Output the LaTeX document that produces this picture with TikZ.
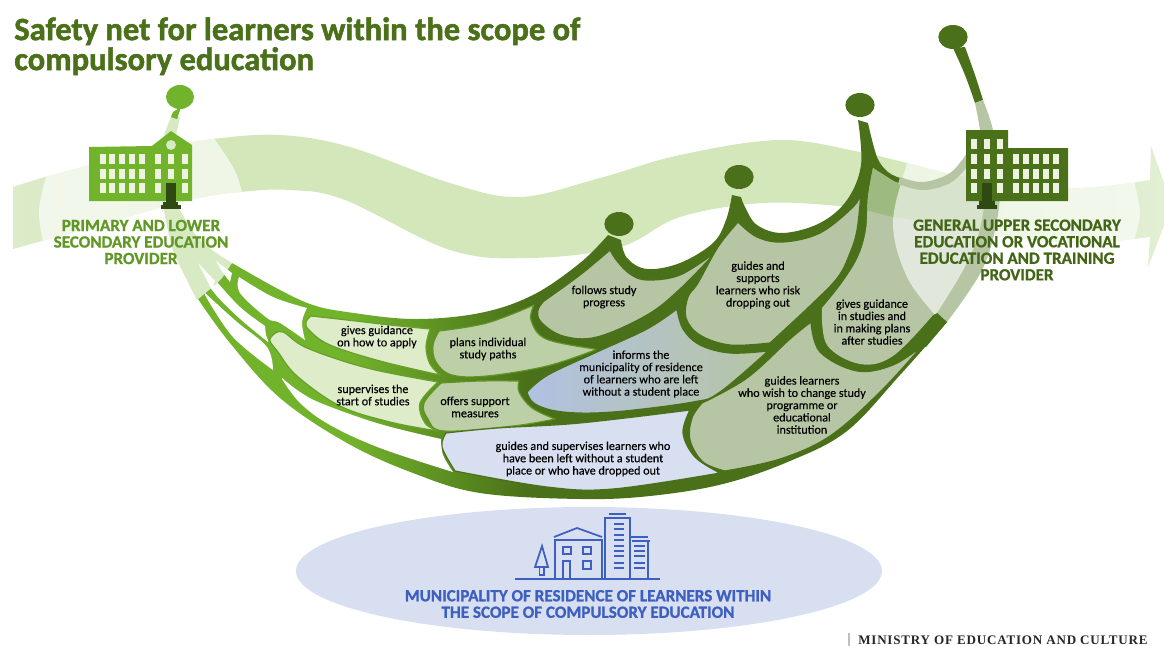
\documentclass[tikz,border=0pt]{standalone}
\usepackage{fontspec}
\setmainfont{Carlito}
\newfontfamily\bodyfont[FakeBold=0.25]{Carlito}
\newfontfamily\titlefont[FakeBold=1.6]{Carlito Bold}
\newfontfamily\headfont[FakeBold=1.0]{Carlito Bold}
\newfontfamily\minfont[LetterSpace=6]{Liberation Serif Bold}
\usetikzlibrary{shapes.geometric}
\definecolor{lgreen}{HTML}{72B32C}
\definecolor{mgreen}{HTML}{5F9522}
\definecolor{dgreen}{HTML}{4A7019}
\definecolor{vdark}{HTML}{2E4A12}
\definecolor{paleg}{HTML}{DFECC9}
\definecolor{sage}{HTML}{B6C5A3}
\definecolor{sageb}{HTML}{BDCFA6}
\definecolor{stemlt}{HTML}{D8EAC4}
\definecolor{blueA}{HTML}{D7DFF1}
\definecolor{blueB}{HTML}{B1C1E2}
\definecolor{blueI}{HTML}{3C5FC0}
\definecolor{winlt}{HTML}{EDF3E0}
\definecolor{ribA}{HTML}{DCEBC9}
\definecolor{ribB}{HTML}{D3E7BA}
\definecolor{ribC}{HTML}{E2EFD3}
\definecolor{ribIn}{HTML}{9DBB80}
\pgfdeclarehorizontalshading{massshade}{100bp}{color(0bp)=(lgreen);color(35bp)=(lgreen);color(47bp)=(dgreen);color(100bp)=(dgreen)}
\pgfdeclarehorizontalshading{ribbonshade}{100bp}{color(0bp)=(ribA);color(25bp)=(ribA);color(33bp)=(ribB);color(62bp)=(ribB);color(75bp)=(ribC);color(100bp)=(ribC)}
\tikzset{
 sm/.style={smooth,tension=.6},
 bodytxt/.style={align=center,font=\bodyfont\fontsize{9.1}{9.2}\selectfont,text=black,inner sep=0pt},
 headtxt/.style={align=center,font=\headfont\fontsize{12.8}{12.4}\selectfont,inner sep=0pt},
 knobdark/.style={fill=dgreen},
 rimL/.style={draw=lgreen!90!black,line width=.9pt,line join=round},
 rimM/.style={draw=mgreen,line width=.9pt,line join=round},
 rimD/.style={draw=dgreen,line width=.9pt,line join=round},
 ico/.style={draw=blueI,line width=1.3pt,fill=none}
}
\def\ribbonpath{plot[sm] coordinates {(13,187)(45,177)(90,165)(150,150)(213,139)(280,135)(350,147)(450,183)(520,197)(600,178)(680,155)(780,140)(860,152)(907,163)(967,177)(1070,188)(1150,180)} -- (1151,146) -- (1172,205) -- (1148,267) -- plot[sm] coordinates {(1150,237)(1080,243)(1000,236)(913,220)(893,217)(847,207)(763,203)(680,217)(620,247)(530,258)(450,250)(345,200)(290,190)(240,192)(190,200)(100,225)(13,249)} -- cycle}
\def\massoutline{plot[sm] coordinates {(232,263)(280,290)(313,305)(347,312)(413,319)(480,313)(533,295)(580,263)(608,235)} -- (621,240) -- plot[sm] coordinates {(621,240)(627,258)(647,269)(680,263)(713,243)(726,220)(732,195)} -- (741,197) -- plot[sm] coordinates {(741,197)(745,207)(757,225)(783,233)(820,223)(847,200)(861,165)(858,120)} -- (868,123) -- plot[sm] coordinates {(868,123)(877,157)(888,172)(900,178)} -- (937,313) -- (947,322) -- plot[sm] coordinates {(947,322)(900,375)(847,431)(790,461)(723,484)(650,496)(580,499)(480,493)(413,473)(347,443)(280,398)(230,343)(198,299)} -- cycle}
\def\cellapply{plot[sm] coordinates {(311,316)(347,320)(390,325)(430,329)} -- plot[sm] coordinates {(430,329)(426,347)(430,364)(440,375)} -- plot[sm] coordinates {(440,375)(380,361)(330,345)(309,330)(306,322)(311,316)} -- cycle}
\def\cellplans{plot[sm] coordinates {(439,331)(487,323)(534,305)} -- plot[sm] coordinates {(534,305)(531,320)(546,339)(595,349)} -- plot[sm] coordinates {(595,350)(547,366)(487,376)(452,375)(436,362)(433,345)(439,331)} -- cycle}
\def\cellfollow{plot[sm] coordinates {(544,301)(580,275)(610,250)} -- plot[sm] coordinates {(610,250)(617,261)(630,274)(647,280)(680,275)(716,252)} -- plot[sm] coordinates {(716,252)(680,289)(647,315)(597,337)(563,336)(541,322)(538,310)(544,301)} -- cycle}
\def\cellinform{plot[sm] coordinates {(527,392)(548,375)(597,352)(647,329)(677,309)} -- plot[sm] coordinates {(677,309)(683,329)(700,345)(730,353)(768,351)} -- plot[sm] coordinates {(768,351)(720,392)(693,402)(613,412)(563,412)(535,404)(527,392)} -- cycle}
\def\cellsupports{plot[sm] coordinates {(738,222)(757,237)(783,242)(820,233)(853,207)(861,193)} -- plot[sm] coordinates {(861,193)(857,230)(850,253)(838,277)(813,303)(770,343)} -- plot[sm] coordinates {(770,343)(730,345)(700,335)(686,318)(688,297)(698,283)(718,247)(738,222)} -- cycle}
\def\cellstudies{plot[sm] coordinates {(873,168)(868,197)(866,230)(858,257)(842,283)(822,308)} -- plot[sm] coordinates {(822,308)(827,345)(860,364)(893,356)(933,315)} -- (937,313) -- plot[sm] coordinates {(937,313)(967,263)(982,220)(985,170)} -- plot[sm] coordinates {(985,170)(967,167)(950,183)(923,190)(898,183)(887,177)(873,168)} -- cycle}
\def\celllearners{plot[sm] coordinates {(922,346)(893,365)(857,371)(820,352)(811,322)} -- plot[sm] coordinates {(811,322)(790,339)(747,378)(702,403)} -- plot[sm] coordinates {(702,403)(692,418)(690,440)(703,462)(725,471)} -- plot[sm] coordinates {(725,471)(780,459)(830,436)(880,392)(922,346)} -- cycle}
\def\cellblue{plot[sm] coordinates {(446,433)(497,428)(580,423)(690,410)} -- plot[sm] coordinates {(690,410)(683,433)(695,457)(720,473)} -- plot[sm] coordinates {(720,473)(613,489)(547,487)(455,471)} -- plot[sm] coordinates {(455,471)(442,447)(446,433)} -- cycle}
\def\celloffers{plot[sm] coordinates {(441,383)(480,381)(519,381)} -- plot[sm] coordinates {(519,381)(519,392)(532,408)(555,419)} -- plot[sm] coordinates {(555,419)(513,426)(444,431)(428,419)(424,403)(441,383)} -- cycle}
\def\cellsuper{plot[sm] coordinates {(273,335)(283,332)(307,348)(367,368)(438,382)} -- plot[sm] coordinates {(438,382)(420,403)(425,423)(438,431)} -- plot[sm] coordinates {(438,431)(390,422)(340,406)(297,376)(278,352)(270,341)(273,335)} -- cycle}
\def\rightpatch{plot[sm] coordinates {(912,145)(907,163)(893,223)(907,277)(937,317)} -- (1010,317) -- (1140,260) -- plot[sm] coordinates {(1135,237)(1140,213)(1135,185)} -- (1135,120) -- cycle}
\begin{document}
\begin{tikzpicture}[x=0.75pt,y=-0.75pt]
\useasboundingbox (0,0) rectangle (1164,646);
\clip (0,0) rectangle (1164,646);
% ribbon
\path[shading=ribbonshade] \ribbonpath;
\begin{scope}
 \clip \ribbonpath;
 \fill[white,opacity=.65] plot[sm] coordinates {(50,165)(39,210)(46,255)} -- (250,210) -- plot[sm] coordinates {(242,192)(233,167)(208,130)} -- cycle;
 \fill[white,opacity=.6] \rightpatch;
\end{scope}
% ellipse
\node[ellipse,fill=blueA,minimum width=439.5pt,minimum height=96pt,inner sep=0pt] (muni) at (589,571) {};
% mass
\path[shading=massshade] \massoutline;
\fill[dgreen] plot[sm] coordinates {(953,48)(965,75)(975,103)} -- (983,100) -- plot[sm] coordinates {(983,100)(975,75)(965,47)} -- cycle;
\node[ellipse,fill=lgreen,minimum width=21pt,minimum height=18pt,inner sep=0pt] (knobL) at (180,97) {};
\node[ellipse,knobdark,minimum width=22pt,minimum height=18pt,inner sep=0pt] (knobA) at (619,224) {};
\node[ellipse,knobdark,minimum width=22pt,minimum height=18pt,inner sep=0pt] (knobB) at (739,177) {};
\node[ellipse,knobdark,minimum width=22pt,minimum height=18pt,inner sep=0pt] (knobC) at (860,105) {};
\node[ellipse,knobdark,minimum width=22pt,minimum height=18pt,inner sep=0pt] (knobD) at (953,37) {};
% cells
\filldraw[fill=paleg,rimL] \cellapply;
\filldraw[fill=paleg,rimL] \cellsuper;
\filldraw[fill=sageb,rimM] \cellplans;
\filldraw[fill=sageb,rimM] \celloffers;
\filldraw[fill=sage,rimD] \cellfollow;
\filldraw[fill=sage,rimD] \cellsupports;
\filldraw[fill=sage,rimD] \celllearners;
\filldraw[fill=blueA,rimD] \cellblue;
\path[left color=blueB,right color=sage,rimD] \cellinform;
\fill[sage] \cellstudies;
\begin{scope}
 \clip \cellstudies;
 \fill[ribIn] \ribbonpath;
 \fill[white,opacity=.6] \rightpatch;
\end{scope}
% light band and stem on right
\fill[sage] plot[sm] coordinates {(900,177)(923,182)(950,173)(967,153)} -- (975,165) -- plot[sm] coordinates {(967,167)(950,183)(923,190)(898,184)} -- cycle;
\fill[sage] plot[sm] coordinates {(975,103)(980,130)(985,170)(982,220)(967,263)(937,313)} -- (947,322) -- plot[sm] coordinates {(947,322)(982,270)(997,220)(1000,175)(993,130)(983,100)} -- cycle;
\fill[dgreen] (937,313) -- (947,322) -- (926,347) -- (920,346) -- cycle;
% white gaps
\fill[white] plot[sm] coordinates {(239,277)(273,297)(307,308)} -- plot[sm] coordinates {(307,308)(302,322)(305,340)} -- plot[sm] coordinates {(305,340)(280,323)(267,318)(240,293)(239,277)} -- cycle;
\fill[white] plot[sm] coordinates {(198,263)(215,280)(240,307)(265,326)} -- plot[sm] coordinates {(265,326)(266,335)(268,340)} -- plot[sm] coordinates {(268,342)(238,317)(212,290)(198,263)} -- cycle;
\fill[white] plot[sm] coordinates {(205,293)(237,322)(267,347)(273,370)} -- plot[sm] coordinates {(273,370)(233,337)(205,295)} -- cycle;
\fill[white] plot[sm] coordinates {(282,378)(300,392)(323,404)(380,424)(441,439)} -- plot[sm] coordinates {(441,439)(443,455)(453,472)} -- plot[sm] coordinates {(453,472)(380,448)(330,425)(300,403)(282,379)} -- cycle;
% left stems
\fill[stemlt] plot[sm] coordinates {(163,205)(170,240)(177,260)(197,300)} -- (215,285) -- (222,278) -- (232,263) -- plot[sm] coordinates {(232,263)(200,240)(177,205)} -- cycle;
\fill[white] (198,263) -- (215,281) -- (212,290) -- cycle;
\fill[white] (216,261) -- (232,273) -- (230,282) -- (223,273) -- cycle;
\fill[stemlt] (164,135) -- (172,114) -- (180,117) -- (176,135) -- cycle;
\fill[lgreen] (173,112) -- (171,117) -- (177,119) -- (181,107) -- cycle;
% left school
\fill[lgreen] (89,147) -- (152,146) -- (171,131) -- (192,145) -- (192,201) -- (89,201) -- cycle;
\foreach \xx in {100,109,119,129,139,155,168,182}{
 \foreach \yy in {154,169,183}{ \fill[winlt] (\xx,\yy) rectangle +(6,9.5); }}
\fill[stemlt] (171,145) circle[radius=3.7pt];
\fill[vdark] (166,183) rectangle (176,202);
\fill[vdark] (163,202) rectangle (178,205);
\fill[vdark] (161,205) rectangle (181,208.5);
% right school
\fill[dgreen] (966,130) -- (1008,130) -- (1008,148) -- (1068,148) -- (1068,201) -- (966,201) -- cycle;
\foreach \xx in {971,984,997}{
 \foreach \yy in {139,154,169,183}{ \fill[winlt] (\xx,\yy) rectangle +(6,9.5); }}
\foreach \xx in {1013,1023,1033,1043,1053}{
 \foreach \yy in {154,169,183}{ \fill[winlt] (\xx,\yy) rectangle +(6,9.5); }}
\fill[vdark] (982,183) rectangle (992,201);
\fill[vdark] (979,201) rectangle (995,205);
\fill[vdark] (977,205) rectangle (997,209);
% municipal icon
\draw[ico] (515,579) -- (660,579);
\draw[ico] (542,546) -- (535,567) -- (548,567) -- cycle;
\draw[ico] (539.5,567) -- (539.5,575) -- (544,575) -- (544,567);
\draw[ico] (555,579) -- (555,540) -- (602,540) -- (602,579);
\draw[ico] (554,537) -- (577,528) -- (602,537);
\draw[ico] (563,547) rectangle (571,554);
\draw[ico] (583,547) rectangle (591,554);
\draw[ico] (583,561) rectangle (591,569);
\draw[ico] (563,579) -- (563,561) -- (570,561) -- (570,579);
\draw[ico,line width=1.7pt] (605,579) -- (605,518) -- (630,518) -- (630,579);
\draw[ico,line width=1.7pt] (609,514) -- (626,514);
\foreach \yy in {524,529,535,540,546,551,556,563,568}{ \draw[ico,line width=1.2pt] (614,\yy) -- (624,\yy); }
\draw[ico] (630,537) -- (648,537);
\draw[ico] (632,541) -- (650,541);
\draw[ico] (648,541) -- (648,579);
\foreach \yy in {546,551,556,563,568}{ \draw[ico,line width=1.2pt] (634,\yy) -- (645,\yy); }
% body texts
\node[bodytxt] (tApply) at (377,337) {gives guidance\\on how to apply};
\node[bodytxt] (tSuper) at (373,395) {supervises the\\start of studies};
\node[bodytxt] (tPlans) at (488,349) {plans individual\\study paths};
\node[bodytxt] (tOffers) at (475,407) {offers support\\measures};
\node[bodytxt] (tFollow) at (604,297) {follows study\\progress};
\node[bodytxt] (tInform) at (641,374) {informs the\\municipality of residence\\of learners who are left\\without a student place};
\node[bodytxt] (tBlue) at (583,459) {guides and supervises learners who\\have been left without a student\\place or who have dropped out};
\node[bodytxt] (tSupports) at (758,285) {guides and\\supports\\learners who risk\\dropping out};
\node[bodytxt] (tStudies) at (872,322) {gives guidance\\in studies and\\in making plans\\after studies};
\node[bodytxt] (tLearn) at (802,405) {guides learners\\who wish to change study\\programme or\\educational\\institution};
% headings
\node[headtxt,text=lgreen!85!black] (hPrim) at (141,242) {PRIMARY AND LOWER\\SECONDARY EDUCATION\\PROVIDER};
\node[headtxt,text=dgreen!90!black] (hUpper) at (1017,250) {GENERAL UPPER SECONDARY\\EDUCATION OR VOCATIONAL\\EDUCATION AND TRAINING\\PROVIDER};
\node[headtxt,text=blueI] (hMuni) at (588,604) {MUNICIPALITY OF RESIDENCE OF LEARNERS WITHIN\\THE SCOPE OF COMPULSORY EDUCATION};
\node[anchor=north west,align=left,inner sep=0pt,text=dgreen,font=\titlefont\fontsize{24.4}{22.5}\selectfont] (title) at (14,17) {Safety net for learners within the scope of\\compulsory education};
\node[anchor=base west,inner sep=0pt,font=\minfont\fontsize{9.8}{10}\selectfont,text=black!85] (ministry) at (858,644) {MINISTRY OF EDUCATION AND CULTURE};
\draw[black!25,line width=.8pt] (849,633) -- (849,647);
\end{tikzpicture}
\end{document}
